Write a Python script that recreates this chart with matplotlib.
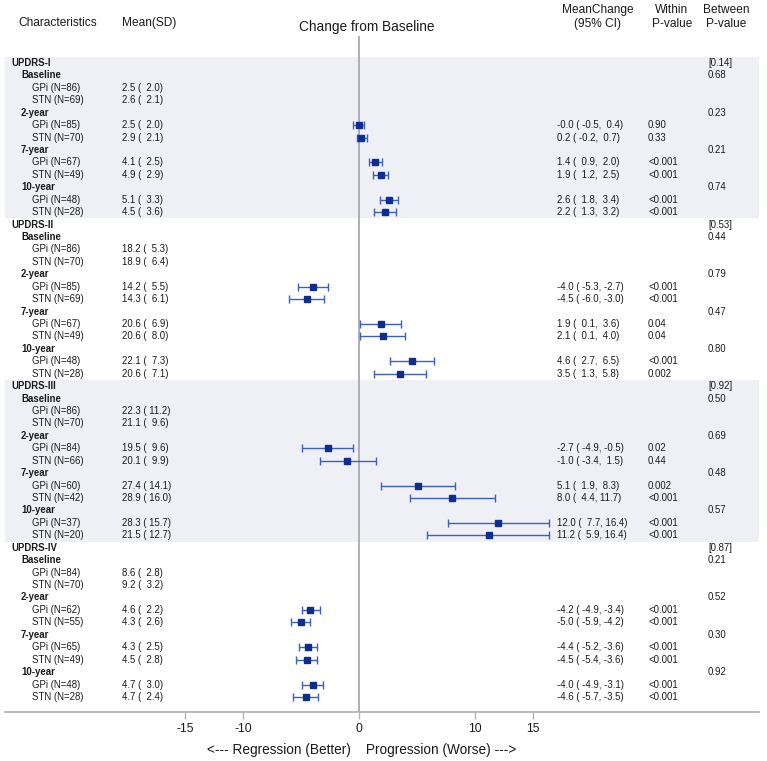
import matplotlib
matplotlib.use('Agg')
import matplotlib.pyplot as plt

plt.rcParams['font.family'] = ['Liberation Sans', 'DejaVu Sans']

# ---- data ----
scales = ['UPDRS-I', 'UPDRS-II', 'UPDRS-III', 'UPDRS-IV']
scale_p = ['[0.14]', '[0.53]', '[0.92]', '[0.87]']
visits = ['Baseline', '2-year', '7-year', '10-year']
visit_p = [['0.68', '0.23', '0.21', '0.74'],
           ['0.44', '0.79', '0.47', '0.80'],
           ['0.50', '0.69', '0.48', '0.57'],
           ['0.21', '0.52', '0.30', '0.92']]

gpi_n = [[86, 85, 67, 48], [86, 85, 67, 48], [86, 84, 60, 37], [84, 62, 65, 48]]
stn_n = [[69, 70, 49, 28], [70, 69, 49, 28], [70, 66, 42, 20], [70, 55, 49, 28]]

gpi_mean = [[2.5, 2.5, 4.1, 5.1], [18.2, 14.2, 20.6, 22.1], [22.3, 19.5, 27.4, 28.3], [8.6, 4.6, 4.3, 4.7]]
gpi_sd = [[2.0, 2.0, 2.5, 3.3], [5.3, 5.5, 6.9, 7.3], [11.2, 9.6, 14.1, 15.7], [2.8, 2.2, 2.5, 3.0]]
stn_mean = [[2.6, 2.9, 4.9, 4.5], [18.9, 14.3, 20.6, 20.6], [21.1, 20.1, 28.9, 21.5], [9.2, 4.3, 4.5, 4.7]]
stn_sd = [[2.1, 2.1, 2.9, 3.6], [6.4, 6.1, 8.0, 7.1], [9.6, 9.9, 16.0, 12.7], [3.2, 2.6, 2.8, 2.4]]

# change from baseline for 2-, 7-, 10-year
gpi_chg = [[-0.0, 1.4, 2.6], [-4.0, 1.9, 4.6], [-2.7, 5.1, 12.0], [-4.2, -4.4, -4.0]]
gpi_lo = [[-0.5, 0.9, 1.8], [-5.3, 0.1, 2.7], [-4.9, 1.9, 7.7], [-4.9, -5.2, -4.9]]
gpi_hi = [[0.4, 2.0, 3.4], [-2.7, 3.6, 6.5], [-0.5, 8.3, 16.4], [-3.4, -3.6, -3.1]]
gpi_pw = [['0.90', '<0.001', '<0.001'], ['<0.001', '0.04', '<0.001'],
          ['0.02', '0.002', '<0.001'], ['<0.001', '<0.001', '<0.001']]

stn_chg = [[0.2, 1.9, 2.2], [-4.5, 2.1, 3.5], [-1.0, 8.0, 11.2], [-5.0, -4.5, -4.6]]
stn_lo = [[-0.2, 1.2, 1.3], [-6.0, 0.1, 1.3], [-3.4, 4.4, 5.9], [-5.9, -5.4, -5.7]]
stn_hi = [[0.7, 2.5, 3.2], [-3.0, 4.0, 5.8], [1.5, 11.7, 16.4], [-4.2, -3.6, -3.5]]
stn_pw = [['0.33', '<0.001', '<0.001'], ['<0.001', '0.04', '0.002'],
          ['0.44', '<0.001', '<0.001'], ['<0.001', '<0.001', '<0.001']]

xticks = [-15, -10, 0, 10, 15]

# ---- layout ----
W, H = 767, 761
fig = plt.figure(figsize=(W / 100, H / 100), dpi=100)
ax_l, ax_r, ax_t, ax_b = 5, 759, 36, 712
ax = fig.add_axes([ax_l / W, 1 - ax_b / H, (ax_r - ax_l) / W, (ax_b - ax_t) / H])

px0, ppu = 359.0, 11.6            # pixel of zero, pixels per unit
ax.set_xlim((ax_l - px0) / ppu, (ax_r - px0) / ppu)
row0, rstep = 63.0, 12.43
ax.set_ylim((ax_b - row0) / rstep, (ax_t - row0) / rstep)


def dx(px):
    return (px - px0) / ppu


fs = 6.9
txt = '#1a1a1a'
shade = '#eef0f6'
line_c = '#3d5fbd'
mark_c = '#0c2e8e'

row = 0
for s in range(len(scales)):
    start = row
    ax.text(dx(11), row, scales[s], fontsize=fs, fontweight='bold', va='center', color=txt)
    ax.text(dx(708), row, scale_p[s], fontsize=fs, va='center', color=txt)
    row += 1
    for v in range(len(visits)):
        ax.text(dx(21), row, visits[v], fontsize=fs, fontweight='bold', va='center', color=txt)
        ax.text(dx(708), row, visit_p[s][v], fontsize=fs, va='center', color=txt)
        row += 1
        groups = [('GPi', gpi_n, gpi_mean, gpi_sd, gpi_chg, gpi_lo, gpi_hi, gpi_pw),
                  ('STN', stn_n, stn_mean, stn_sd, stn_chg, stn_lo, stn_hi, stn_pw)]
        for name, n, m, sd, chg, lo, hi, pw in groups:
            ax.text(dx(32), row, '{} (N={})'.format(name, n[s][v]), fontsize=fs, va='center', color=txt)
            ax.text(dx(122), row, '{:.1f} ({:5.1f})'.format(m[s][v], sd[s][v]),
                    fontsize=fs, va='center', color=txt)
            if v > 0:
                c, l, h = chg[s][v - 1], lo[s][v - 1], hi[s][v - 1]
                ax.errorbar(c, row, xerr=[[c - l], [h - c]], fmt='none', ecolor=line_c,
                            elinewidth=1.0, capsize=3, capthick=1.0, zorder=3)
                ax.plot(c, row, 's', color=mark_c, markersize=3.8, zorder=4)
                ax.text(dx(557), row, '{:.1f} ({:5.1f},{:5.1f})'.format(c, l, h),
                        fontsize=fs, va='center', color=txt)
                ax.text(dx(648), row, pw[s][v - 1], fontsize=fs, va='center', color=txt)
            row += 1
    if s % 2 == 0:
        ax.axhspan(start - 0.5, row - 0.5, color=shade, lw=0, zorder=0)

ax.axvline(0, color='#a8a8a8', lw=1.3, zorder=1)

for sp in ['top', 'left', 'right']:
    ax.spines[sp].set_visible(False)
ax.spines['bottom'].set_color('#b4b4b4')
ax.spines['bottom'].set_linewidth(1.3)
ax.set_yticks([])
ax.set_xticks(xticks)
ax.set_xticklabels([str(t) for t in xticks])
ax.tick_params(axis='x', colors='#b4b4b4', length=5, width=1.0, labelsize=8.8,
               labelcolor=txt, pad=3)
ax.set_xlabel('<--- Regression (Better)    Progression (Worse) --->',
              fontsize=9.8, color=txt)
# centre of the x label sits under the zero line
ax.xaxis.set_label_coords((px0 - ax_l) / (ax_r - ax_l) + 0.004, -31 / (ax_b - ax_t),
                          transform=ax.transAxes)

# ---- column headers ----
hfs = 8.6
fig.text(18 / W, 1 - 23 / H, 'Characteristics', fontsize=hfs, va='center', color=txt)
fig.text(122 / W, 1 - 23 / H, 'Mean(SD)', fontsize=hfs, va='center', color=txt)
fig.text(367 / W, 1 - 27 / H, 'Change from Baseline', fontsize=9.8, ha='center', va='center', color=txt)
fig.text(598 / W, 1 - 17 / H, 'MeanChange\n(95% CI)', fontsize=hfs, ha='center', va='center',
         color=txt, linespacing=1.3)
fig.text(672 / W, 1 - 17 / H, 'Within\nP-value', fontsize=hfs, ha='center', va='center',
         color=txt, linespacing=1.3)
fig.text(726 / W, 1 - 17 / H, 'Between\nP-value', fontsize=hfs, ha='center', va='center',
         color=txt, linespacing=1.3)

fig.savefig('out.png', dpi=100, facecolor='white')
